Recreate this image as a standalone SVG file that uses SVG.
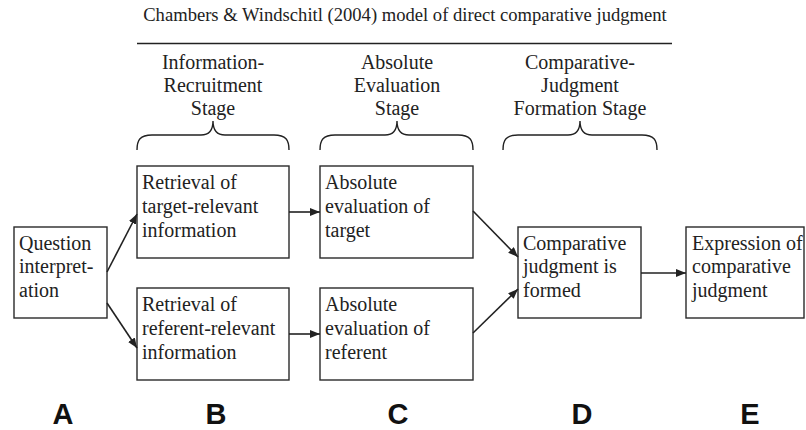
<svg xmlns="http://www.w3.org/2000/svg" width="806" height="430" viewBox="0 0 806 430">
<style>
.bg{fill:#ffffff}
.box{fill:#ffffff;stroke:#2a2a2a;stroke-width:1.4}
.t{font-family:"Liberation Serif","Times New Roman",serif;font-size:20px;fill:#222}
.st{font-family:"Liberation Serif","Times New Roman",serif;font-size:20px;fill:#222;text-anchor:middle}
.title{font-family:"Liberation Serif","Times New Roman",serif;font-size:18.6px;fill:#222;text-anchor:middle}
.lab{font-family:"Liberation Sans",Arial,sans-serif;font-size:29px;font-weight:bold;fill:#111;text-anchor:middle}
.ln{fill:none;stroke:#222;stroke-width:1.6}
.br{fill:none;stroke:#222;stroke-width:1.4}
</style>
<defs>
<marker id="ah" markerUnits="userSpaceOnUse" markerWidth="11" markerHeight="9" refX="10" refY="4" orient="auto">
<path d="M0,0 L10,4 L0,8 z" fill="#222"/>
</marker>
</defs>
<rect class="bg" x="0" y="0" width="806" height="430"/>
<g id="header">
<text class="title" x="405" y="21">Chambers &amp; Windschitl (2004) model of direct comparative judgment</text>
<line x1="137" y1="43.5" x2="672" y2="43.5" stroke="#222" stroke-width="1.5"/>
</g>
<g id="stage-info">
<text class="st" x="213" y="69">Information-</text>
<text class="st" x="213" y="92">Recruitment</text>
<text class="st" x="213" y="115">Stage</text>
<path class="br" d="M137,150 C137,140 140,135 152,135 L201,135 C209,135 213,130 213,121 C213,130 217,135 225,135 L274,135 C286,135 289,140 289,150"/>
</g>
<g id="stage-abs">
<text class="st" x="397" y="69">Absolute</text>
<text class="st" x="397" y="92">Evaluation</text>
<text class="st" x="397" y="115">Stage</text>
<path class="br" d="M320,150 C320,140 323,135 335,135 L385,135 C393,135 397,130 397,121 C397,130 401,135 409,135 L458,135 C470,135 473,140 473,150"/>
</g>
<g id="stage-comp">
<text class="st" x="580" y="69">Comparative-</text>
<text class="st" x="580" y="92">Judgment</text>
<text class="st" x="580" y="115">Formation Stage</text>
<path class="br" d="M503,150 C503,140 506,135 518,135 L568,135 C576,135 580,130 580,121 C580,130 584,135 592,135 L642,135 C654,135 657,140 657,150"/>
</g>
<g id="node-question">
<rect class="box" x="14" y="227" width="93" height="91"/>
<text class="t" x="19" y="250">Question</text>
<text class="t" x="19" y="273">interpret-</text>
<text class="t" x="19" y="297">ation</text>
</g>
<g id="node-retrieval-target">
<rect class="box" x="137" y="166" width="152" height="92"/>
<text class="t" x="142" y="189">Retrieval of</text>
<text class="t" x="142" y="213">target-relevant</text>
<text class="t" x="142" y="237">information</text>
</g>
<g id="node-retrieval-referent">
<rect class="box" x="137" y="288" width="152" height="92"/>
<text class="t" x="142" y="311">Retrieval of</text>
<text class="t" x="142" y="335">referent-relevant</text>
<text class="t" x="142" y="359">information</text>
</g>
<g id="node-abs-target">
<rect class="box" x="320" y="166" width="153" height="92"/>
<text class="t" x="325" y="189">Absolute</text>
<text class="t" x="325" y="213">evaluation of</text>
<text class="t" x="325" y="237">target</text>
</g>
<g id="node-abs-referent">
<rect class="box" x="320" y="288" width="153" height="92"/>
<text class="t" x="325" y="311">Absolute</text>
<text class="t" x="325" y="335">evaluation of</text>
<text class="t" x="325" y="359">referent</text>
</g>
<g id="node-comparative">
<rect class="box" x="518" y="227" width="123" height="91"/>
<text class="t" x="523" y="250">Comparative</text>
<text class="t" x="523" y="273">judgment is</text>
<text class="t" x="523" y="297">formed</text>
</g>
<g id="node-expression">
<rect class="box" x="686" y="227" width="118" height="91"/>
<text class="t" x="692" y="250">Expression of</text>
<text class="t" x="692" y="273">comparative</text>
<text class="t" x="692" y="297">judgment</text>
</g>
<g id="connectors">
<line class="ln" x1="107" y1="272" x2="137" y2="214" marker-end="url(#ah)"/>
<line class="ln" x1="107" y1="303" x2="137" y2="348" marker-end="url(#ah)"/>
<line class="ln" x1="289" y1="212" x2="320" y2="212" marker-end="url(#ah)"/>
<line class="ln" x1="289" y1="334" x2="320" y2="334" marker-end="url(#ah)"/>
<line class="ln" x1="473" y1="211" x2="518" y2="257" marker-end="url(#ah)"/>
<line class="ln" x1="473" y1="333" x2="518" y2="289" marker-end="url(#ah)"/>
<line class="ln" x1="641" y1="273" x2="686" y2="273" marker-end="url(#ah)"/>
</g>
<g id="labels">
<text class="lab" x="63" y="424">A</text>
<text class="lab" x="216" y="424">B</text>
<text class="lab" x="398" y="424">C</text>
<text class="lab" x="582" y="424">D</text>
<text class="lab" x="750" y="424">E</text>
</g>
</svg>
